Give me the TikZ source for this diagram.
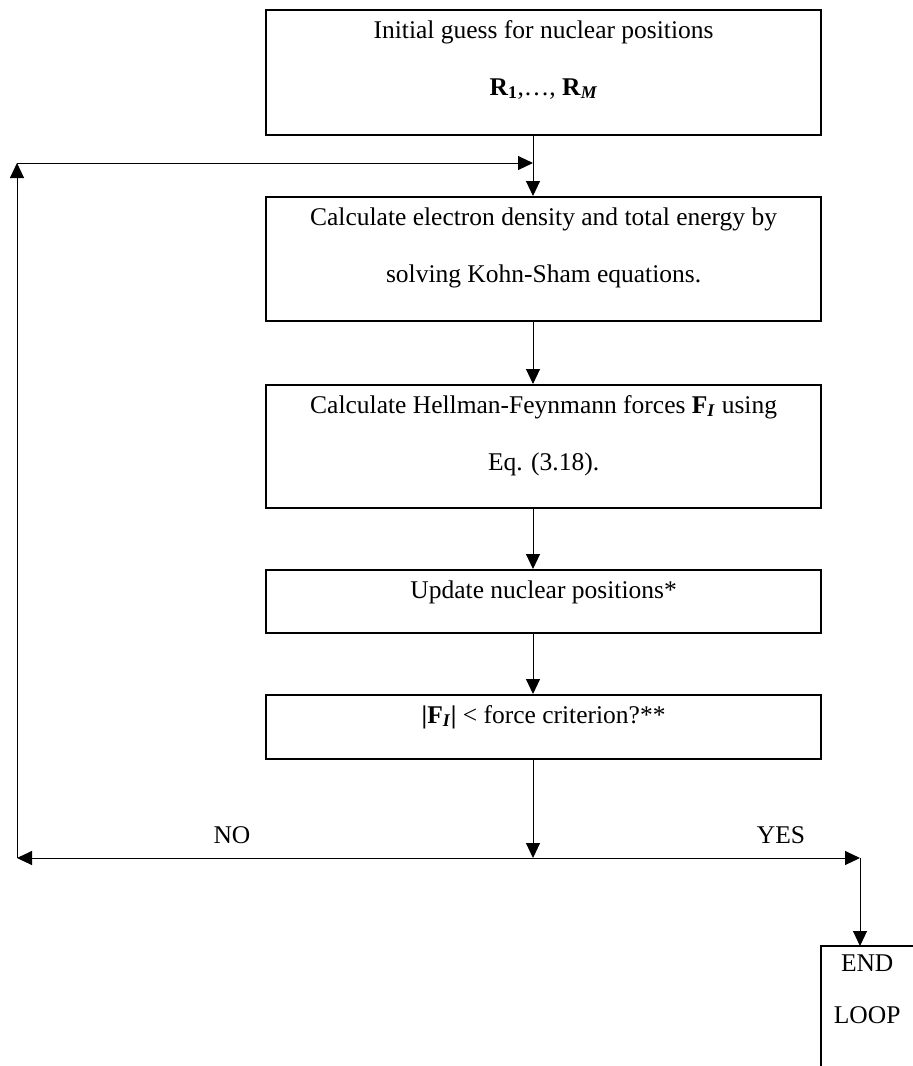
\documentclass[tikz,border=0pt]{standalone}
\usepackage{fontspec}
\setmainfont{Liberation Serif}
\usetikzlibrary{arrows.meta}

% text block of fixed size, lines hung from the top edge
\newcommand\toplines[5]{%
  \parbox[c][#1][t]{#2}{\centering\fontsize{25.5pt}{#4}\selectfont\rule{0pt}{#3}#5\par}}

\begin{document}
\begin{tikzpicture}[x=1pt,y=-1pt,
  flowbox/.style={draw, line width=2.2pt, inner sep=0pt, anchor=north west},
  arr/.style={line width=1pt, -{Triangle[length=15pt,width=14pt]}},
  lbl/.style={font=\fontsize{25.5pt}{30pt}\selectfont, inner sep=0pt, anchor=base}]

\useasboundingbox (0,0) rectangle (913,1066);

% process boxes
\node[flowbox] (b1) at (265,9)
  {\toplines{125pt}{555pt}{28pt}{57pt}{Initial guess for nuclear positions\\
   \textbf{R}\textsubscript{\textbf{1}},…, \textbf{R}\textsubscript{\textbf{\textit{M}}}}};
\node[flowbox] (b2) at (265,196)
  {\toplines{124pt}{555pt}{28pt}{57pt}{Calculate electron density and total energy by\\
   solving Kohn-Sham equations.}};
\node[flowbox] (b3) at (265,384)
  {\toplines{123pt}{555pt}{28pt}{57pt}{Calculate Hellman-Feynmann forces \textbf{F}\textsubscript{\textbf{\textit{I}}} using\\
   Eq. (3.18).}};
\node[flowbox] (b4) at (265,569)
  {\toplines{63pt}{555pt}{28pt}{57pt}{Update nuclear positions*}};
\node[flowbox] (b5) at (265,694)
  {\toplines{64pt}{555pt}{28pt}{57pt}{\textbf{|F}\textsubscript{\textbf{\textit{I}}}\textbf{|} < force criterion?**}};

% terminal box, open at the bottom and on the right
\node[inner sep=0pt, anchor=north west] (endbox) at (821,946)
  {\toplines{120pt}{92pt}{25pt}{52pt}{END\\LOOP}};
\draw[line width=2.2pt] (endbox.north east) -- (endbox.north west) -- (endbox.south west);

% routing points
\coordinate (col) at (533,0);
\coordinate (split) at (533,858);
\coordinate (noend) at (17,858);
\coordinate (nocorner) at (17,163);
\coordinate (yesend) at (860,858);

% main column
\draw[arr] (b1.south -| col) -- (b2.north -| col);
\draw[arr] (b2.south -| col) -- (b3.north -| col);
\draw[arr] (b3.south -| col) -- (b4.north -| col);
\draw[arr] (b4.south -| col) -- (b5.north -| col);
\draw[arr] (b5.south -| col) -- (split);

% decision branches
\draw[arr] (split) -- (noend);
\draw[arr] (split) -- (yesend);
\draw[arr] (noend) -- (nocorner);
\draw[arr] (nocorner) -- (nocorner -| col);
\draw[arr] (yesend) -- (yesend |- endbox.north);

\node[lbl] (no) at (232,843) {NO};
\node[lbl] (yes) at (781,843) {YES};
\end{tikzpicture}
\end{document}
